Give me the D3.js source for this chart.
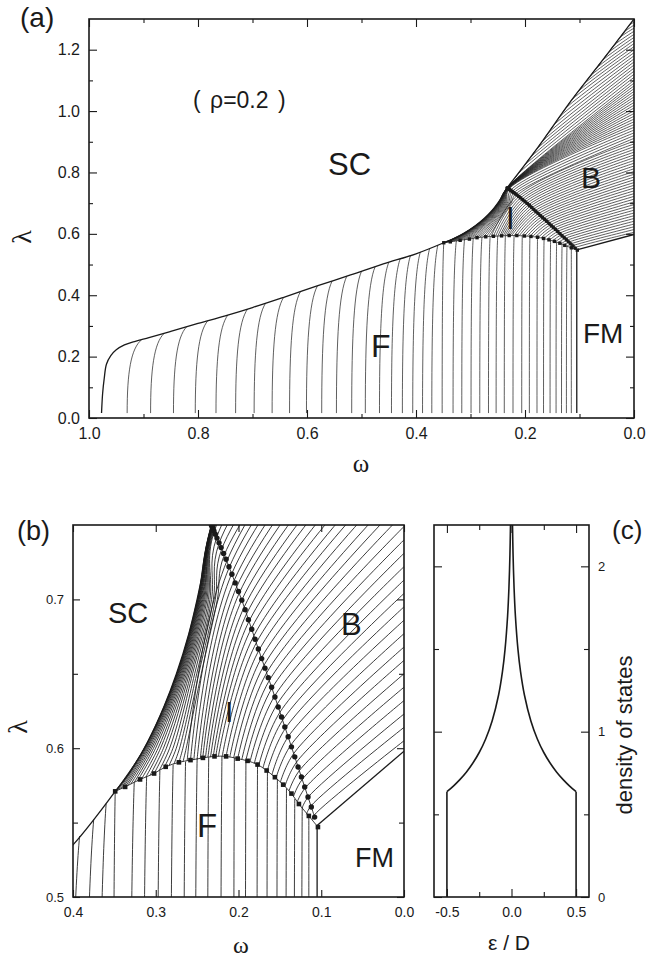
<!DOCTYPE html>
<html>
<head>
<meta charset="utf-8">
<script src="https://cdn.jsdelivr.net/npm/d3@7"></script>
<style>
	body { margin: 0; background: #fff; }
	svg { display: block; font-family: "Liberation Sans", Arial, sans-serif; }
</style>
</head>
<body>
<svg id="fig" width="646" height="961"></svg>
<script>
// ---- phase diagram data (omega, lambda) ----

// bottom end of the F-region lines (lambda where they start)
const fLow = 0.016;
// omega at the bottom of every F line
const fBottom = [0.930, 0.887, 0.845, 0.805, 0.767, 0.731, 0.697, 0.664, 0.632, 0.601, 0.573, 0.546, 0.518,
	0.493, 0.467, 0.445, 0.425, 0.406, 0.388, 0.371, 0.352, 0.332, 0.316, 0.299, 0.283, 0.267, 0.253, 0.238,
	0.222, 0.206, 0.192, 0.178, 0.166, 0.154, 0.143, 0.133, 0.124, 0.115];
// where each F line ends (on the SC boundary or the square line)
const fTop = [[0.903, 0.256], [0.862, 0.276], [0.821, 0.297], [0.782, 0.317], [0.745, 0.336], [0.709, 0.355],
	[0.676, 0.374], [0.643, 0.393], [0.612, 0.412], [0.581, 0.430], [0.554, 0.446], [0.527, 0.462], [0.500, 0.478],
	[0.475, 0.493], [0.450, 0.507], [0.429, 0.519], [0.410, 0.530], [0.392, 0.541], [0.375, 0.552], [0.360, 0.5625],
	[0.349, 0.571], [0.326, 0.577], [0.311, 0.581], [0.295, 0.585], [0.279, 0.589], [0.264, 0.591], [0.250, 0.593],
	[0.236, 0.594], [0.220, 0.5945], [0.205, 0.5935], [0.191, 0.592], [0.177, 0.589], [0.165, 0.5845], [0.153, 0.579],
	[0.142, 0.573], [0.132, 0.566], [0.123, 0.5605], [0.115, 0.5545]];

// superconducting phase boundary
const scLower = [[0.977, 0.016], [0.975, 0.08], [0.972, 0.13], [0.968, 0.175], [0.960, 0.203], [0.950, 0.222],
	[0.935, 0.238], [0.915, 0.250], [0.89, 0.262], [0.85, 0.282], [0.80, 0.308], [0.75, 0.333], [0.70, 0.360],
	[0.64, 0.395], [0.58, 0.431], [0.52, 0.466], [0.46, 0.502], [0.40, 0.535], [0.349, 0.571]];
const scMiddle = [[0.349, 0.571], [0.33, 0.585], [0.31, 0.604], [0.29, 0.628], [0.275, 0.65], [0.26, 0.677],
	[0.25, 0.70], [0.24, 0.727], [0.2328, 0.75]];
const scUpper = [[0.2328, 0.75], [0.175, 0.885], [0.117, 1.03], [0.058, 1.165], [0, 1.3]];

// FM region edges
const fmVert = [[0.105, 0.016], [0.105, 0.548]];
const fmSlant = [[0.105, 0.548], [0, 0.598]];

// F / I boundary (squares) and I / B boundary (circles)
const squarePts = [[0.349, 0.571], [0.337, 0.574], [0.319, 0.579], [0.302, 0.583], [0.288, 0.5875], [0.272, 0.5905],
	[0.258, 0.592], [0.243, 0.5935], [0.229, 0.5945], [0.215, 0.5945], [0.201, 0.593], [0.189, 0.5915], [0.177, 0.589],
	[0.166, 0.585], [0.156, 0.5805], [0.146, 0.5755], [0.136, 0.5695], [0.127, 0.5625], [0.115, 0.5545], [0.104, 0.547]];
const circlePts = [[0.108, 0.5537], [0.112, 0.5605], [0.116, 0.5672], [0.120, 0.5740], [0.124, 0.5807], [0.128, 0.5874],
	[0.132, 0.5942], [0.136, 0.6009], [0.140, 0.6077], [0.144, 0.6143], [0.148, 0.6210], [0.152, 0.6277], [0.156, 0.6344],
	[0.160, 0.6410], [0.164, 0.6474], [0.168, 0.6538], [0.172, 0.6602], [0.176, 0.6667], [0.180, 0.6732], [0.184, 0.6799],
	[0.188, 0.6864], [0.192, 0.6931], [0.196, 0.6995], [0.200, 0.7053], [0.204, 0.7111], [0.208, 0.7169], [0.2115, 0.7219],
	[0.215, 0.7270], [0.218, 0.7309], [0.221, 0.7348], [0.2235, 0.7380], [0.226, 0.7412], [0.228, 0.7438], [0.2297, 0.7460],
	[0.231, 0.7476], [0.232, 0.7489], [0.2328, 0.7500]];

// lines through the I and B regions, ending on the right edge (omega = 0)
const ibLines = [
	[[0.111, 0.552], [0.1087, 0.5549], [0, 0.605]],
	[[0.118, 0.5555], [0.1124, 0.5612], [0, 0.614]],
	[[0.123, 0.560], [0.1159, 0.5671], [0, 0.623]],
	[[0.129, 0.564], [0.1195, 0.5732], [0, 0.632]],
	[[0.1335, 0.5676], [0.1230, 0.5790], [0, 0.641]],
	[[0.139, 0.5713], [0.1265, 0.5849], [0, 0.650]],
	[[0.144, 0.5743], [0.1299, 0.5906], [0, 0.659]],
	[[0.1494, 0.5772], [0.1333, 0.5964], [0, 0.668]],
	[[0.1547, 0.5799], [0.1367, 0.6021], [0, 0.677]],
	[[0.1596, 0.5821], [0.1400, 0.6077], [0, 0.686]],
	[[0.1653, 0.5847], [0.1434, 0.6133], [0, 0.695]],
	[[0.1705, 0.5866], [0.1467, 0.6188], [0, 0.704]],
	[[0.1755, 0.5885], [0.1499, 0.6242], [0, 0.713]],
	[[0.1809, 0.5898], [0.1532, 0.6297], [0, 0.722]],
	[[0.1861, 0.5909], [0.1564, 0.6350], [0, 0.731]],
	[[0.1911, 0.5918], [0.1596, 0.6403], [0, 0.740]],
	[[0.196, 0.5923], [0.1628, 0.6455], [0, 0.749]],
	[[0.201, 0.593], [0.1660, 0.6506], [0, 0.758]],
	[[0.2058, 0.5935], [0.1692, 0.6557], [0, 0.767]],
	[[0.2105, 0.594], [0.1723, 0.6607], [0, 0.776]],
	[[0.215, 0.5945], [0.1754, 0.6657], [0, 0.785]],
	[[0.2197, 0.5945], [0.1785, 0.6708], [0, 0.794]],
	[[0.2243, 0.5945], [0.1814, 0.6756], [0, 0.803]],
	[[0.2275, 0.5945], [0.1844, 0.6806], [0, 0.812]],
	[[0.2305, 0.5945], [0.1873, 0.6853], [0, 0.821]],
	[[0.2338, 0.594], [0.1903, 0.6902], [0, 0.830]],
	[[0.2369, 0.594], [0.1931, 0.6949], [0, 0.839]],
	[[0.2399, 0.5938], [0.1960, 0.6996], [0, 0.848]],
	[[0.2432, 0.5935], [0.1992, 0.7041], [0, 0.857]],
	[[0.2461, 0.5932], [0.2022, 0.7084], [0, 0.866]],
	[[0.250, 0.5925], [0.2052, 0.7128], [0, 0.875]],
	[[0.254, 0.592], [0.2082, 0.7172], [0, 0.884]],
	[[0.258, 0.592], [0.2112, 0.7215], [0, 0.893]],
	[[0.262, 0.5917], [0.2141, 0.7257], [0, 0.902]],
	// the dense bundle hugging the SC boundary
	[[0.267, 0.591], [0.2632, 0.60], [0.245, 0.65], [0.2255, 0.70], [0.2172, 0.7298], [0, 0.911]],
	[[0.272, 0.5905], [0.2672, 0.60], [0.248, 0.65], [0.228, 0.70], [0.2203, 0.7338], [0, 0.920]],
	[[0.278, 0.5894], [0.2712, 0.60], [0.2505, 0.65], [0.2303, 0.70], [0.2234, 0.7378], [0, 0.929]],
	[[0.284, 0.5884], [0.2752, 0.60], [0.253, 0.65], [0.2325, 0.70], [0.2264, 0.7417], [0, 0.938]],
	[[0.290, 0.5869], [0.2792, 0.60], [0.2555, 0.65], [0.2345, 0.70], [0.2294, 0.7456], [0, 0.947]],
	[[0.296, 0.5848], [0.2832, 0.60], [0.2575, 0.65], [0.2363, 0.70], [0.2300, 0.7464], [0, 0.956]],
	[[0.302, 0.583], [0.2872, 0.60], [0.2595, 0.65], [0.238, 0.70], [0.2305, 0.7470], [0, 0.965]],
	[[0.307, 0.5818], [0.2907, 0.60], [0.2613, 0.65], [0.2395, 0.70], [0.2309, 0.7475], [0, 0.974]],
	[[0.312, 0.5806], [0.2942, 0.60], [0.263, 0.65], [0.2409, 0.70], [0.2312, 0.7479], [0, 0.983]],
	[[0.317, 0.5795], [0.2972, 0.60], [0.2646, 0.65], [0.2421, 0.70], [0.2315, 0.7483], [0, 0.992]],
	[[0.322, 0.5782], [0.3002, 0.60], [0.266, 0.65], [0.2432, 0.70], [0.2317, 0.7485], [0, 1.001]],
	[[0.326, 0.5771], [0.3027, 0.60], [0.2673, 0.65], [0.2442, 0.70], [0.2319, 0.7488], [0, 1.010]],
	[[0.330, 0.576], [0.3049, 0.60], [0.2685, 0.65], [0.2451, 0.70], [0.2320, 0.7489], [0, 1.019]],
	[[0.334, 0.5748], [0.3068, 0.60], [0.2696, 0.65], [0.2459, 0.70], [0.2321, 0.7491], [0, 1.028]],
	[[0.337, 0.574], [0.3085, 0.60], [0.2706, 0.65], [0.2466, 0.70], [0.2322, 0.7492], [0, 1.037]],
	[[0.340, 0.5732], [0.3099, 0.60], [0.2715, 0.65], [0.2472, 0.70], [0.2323, 0.7493], [0, 1.046]],
	[[0.3425, 0.5726], [0.3111, 0.60], [0.2723, 0.65], [0.2478, 0.70], [0.2324, 0.7494], [0, 1.055]],
	[[0.345, 0.572], [0.3121, 0.60], [0.273, 0.65], [0.2483, 0.70], [0.2325, 0.7496], [0, 1.064]],
	[[0.347, 0.5715], [0.3129, 0.60], [0.2736, 0.65], [0.2488, 0.70], [0.2326, 0.7497], [0, 1.073]],
	[[0.348, 0.5712], [0.3135, 0.60], [0.2741, 0.65], [0.2492, 0.70], [0.2327, 0.7498], [0, 1.082]],
	[[0.349, 0.571], [0.3139, 0.60], [0.2745, 0.65], [0.2496, 0.70], [0.2328, 0.7500], [0, 1.091]]
];

// B lines leaving the upper SC boundary
const upperLines = [
	[[0.2174, 0.7838], [0.2094, 0.8013], [0, 1.10]],
	[[0.2065, 0.8098], [0.1985, 0.8273], [0, 1.11]],
	[[0.1957, 0.8356], [0.1877, 0.8531], [0, 1.12]],
	[[0.1848, 0.8616], [0.1768, 0.8791], [0, 1.13]],
	[[0.1739, 0.8878], [0.1659, 0.9053], [0, 1.14]],
	[[0.1630, 0.9150], [0.1550, 0.9325], [0, 1.15]],
	[[0.1522, 0.9420], [0.1442, 0.9595], [0, 1.16]],
	[[0.1413, 0.9693], [0.1333, 0.9868], [0, 1.17]],
	[[0.1304, 0.9965], [0.1224, 1.0140], [0, 1.18]],
	[[0.1196, 1.0235], [0.1116, 1.0410], [0, 1.19]],
	[[0.1087, 1.0490], [0.1007, 1.0665], [0, 1.20]],
	[[0.0978, 1.0740], [0.0898, 1.0915], [0, 1.21]],
	[[0.0870, 1.0987], [0.0790, 1.1162], [0, 1.22]],
	[[0.0761, 1.1237], [0.0681, 1.1412], [0, 1.23]],
	[[0.0652, 1.1487], [0.0572, 1.1662], [0, 1.24]],
	[[0.0543, 1.1736], [0.0463, 1.1911], [0, 1.25]],
	[[0.0435, 1.1988], [0.0355, 1.2163], [0, 1.26]],
	[[0.0326, 1.2240], [0.0246, 1.2415], [0, 1.27]],
	[[0.0217, 1.2494], [0.0160, 1.2605], [0, 1.28]],
	[[0.0109, 1.2746], [0.0075, 1.2812], [0, 1.29]]
];

// ---- density of states, panel (c) (positive half, mirrored in the drawing) ----
const dosEps = [0.5, 0.45, 0.4, 0.35, 0.3, 0.25, 0.2, 0.15, 0.1, 0.07, 0.05, 0.03, 0.02, 0.012, 0.0078];
const dosVal = [0.637, 0.671, 0.710, 0.755, 0.809, 0.874, 0.956, 1.065, 1.222, 1.363, 1.498, 1.703, 1.867, 2.074, 2.25];

// ---- ticks ----
const aXMajor = [1.0, 0.8, 0.6, 0.4, 0.2, 0.0], aXMinor = [0.9, 0.7, 0.5, 0.3, 0.1];
const aYMajor = [0.0, 0.2, 0.4, 0.6, 0.8, 1.0, 1.2], aYMinor = [0.1, 0.3, 0.5, 0.7, 0.9, 1.1];
const bXMajor = [0.4, 0.3, 0.2, 0.1, 0.0];
const bYMajor = [0.5, 0.6, 0.7], bYMinor = [0.55, 0.65];
const cXMajor = [-0.5, 0.0, 0.5], cXMinor = [-0.25, 0.25];
const cYMajor = [0, 1, 2], cYMinor = [0.5, 1.5];

const ink = "#1a1a1a";
const svg = d3.select("#fig");

// scales for the three panels
const ax = d3.scaleLinear().domain([1, 0]).range([89, 634]);
const ay = d3.scaleLinear().domain([0, 1.3]).range([418, 19]);
const bx = d3.scaleLinear().domain([0.4, 0]).range([73, 404]);
const by = d3.scaleLinear().domain([0.5, 0.75]).range([897, 525]);
const cx = d3.scaleLinear().domain([-0.6, 0.6]).range([434, 589]);
const cy = d3.scaleLinear().domain([0, 2.25]).range([897, 525]);

function clipFor(id, x, y) {
	svg.append("clipPath").attr("id", id)
		.append("rect")
		.attr("x", x.range()[0]).attr("y", y.range()[1])
		.attr("width", x.range()[1] - x.range()[0])
		.attr("height", y.range()[0] - y.range()[1]);
	return svg.append("g").attr("clip-path", `url(#${id})`);
}

//draw all the curves of the phase diagram into g with the given scales
function drawPhase(g, xs, ys, o) {
	const smooth = d3.line().x((d) => xs(d[0])).y((d) => ys(d[1])).curve(d3.curveCatmullRom.alpha(0.5));
	const straight = d3.line().x((d) => xs(d[0])).y((d) => ys(d[1]));

	// F lines: vertical at the bottom, bending towards the top end
	fBottom.forEach((w0, i) => {
		const t = fTop[i];
		const x0 = xs(w0), y0 = ys(fLow), x1 = xs(t[0]), y1 = ys(t[1]);
		const p = d3.path();
		p.moveTo(x0, y0);
		p.bezierCurveTo(x0, y0 + 0.55 * (y1 - y0), x0 + 0.25 * (x1 - x0), y1 + 0.12 * (y0 - y1), x1, y1);
		g.append("path").attr("d", p.toString())
			.attr("fill", "none").attr("stroke", ink).attr("stroke-width", o.thin);
	});

	// I and B lines
	g.selectAll(".ib").data(ibLines.concat(upperLines)).enter()
		.append("path")
		.attr("d", smooth)
		.attr("fill", "none").attr("stroke", ink).attr("stroke-width", o.thin);

	// boundaries
	[scLower, scMiddle, scUpper].forEach((b) => {
		g.append("path").attr("d", smooth(b))
			.attr("fill", "none").attr("stroke", ink).attr("stroke-width", o.bold);
	});
	[fmVert, fmSlant].forEach((b) => {
		g.append("path").attr("d", straight(b))
			.attr("fill", "none").attr("stroke", ink).attr("stroke-width", o.bold);
	});
	g.append("path").attr("d", smooth(squarePts))
		.attr("fill", "none").attr("stroke", ink).attr("stroke-width", o.thin);
	g.append("path").attr("d", smooth(circlePts))
		.attr("fill", "none").attr("stroke", ink).attr("stroke-width", o.thin);

	// markers
	g.selectAll(".sq").data(squarePts).enter()
		.append("rect")
		.attr("x", (d) => xs(d[0]) - o.sq / 2).attr("y", (d) => ys(d[1]) - o.sq / 2)
		.attr("width", o.sq).attr("height", o.sq).attr("fill", ink);
	g.selectAll(".ci").data(circlePts).enter()
		.append("circle")
		.attr("cx", (d) => xs(d[0])).attr("cy", (d) => ys(d[1]))
		.attr("r", o.r).attr("fill", ink);
}

//frame with inward ticks on all four sides
function frame(x, y, o) {
	const g = svg.append("g");
	const [x0, x1] = x.range(), [y0, y1] = y.range();
	const put = (axis, tr, vals, size, fmt, fs, pad) => {
		const a = g.append("g").attr("transform", tr)
			.call(axis.tickValues(vals).tickSizeInner(-size).tickSizeOuter(0).tickPadding(pad).tickFormat(fmt));
		a.select(".domain").remove();
		a.attr("font-family", null).attr("font-size", fs).attr("color", ink);
		a.selectAll("line").attr("stroke-width", 1.1);
	};
	const none = () => "";
	put(d3.axisBottom(x), `translate(0,${y0})`, o.xMajor, o.tMaj, o.xFmt, o.xFs, 10);
	put(d3.axisTop(x), `translate(0,${y1})`, o.xMajor, o.tMaj, none, 10, 3);
	if (o.xMinor) {
		put(d3.axisBottom(x), `translate(0,${y0})`, o.xMinor, o.tMin, none, 10, 3);
		put(d3.axisTop(x), `translate(0,${y1})`, o.xMinor, o.tMin, none, 10, 3);
	}
	put(d3.axisLeft(y), `translate(${x0},0)`, o.yMajor, o.tMaj, o.yLeft ? o.yFmt : none, o.yFs, 9);
	put(d3.axisRight(y), `translate(${x1},0)`, o.yMajor, o.tMaj, o.yLeft ? none : o.yFmt, o.yFs, 9);
	if (o.yMinor) {
		put(d3.axisLeft(y), `translate(${x0},0)`, o.yMinor, o.tMin, none, 10, 3);
		put(d3.axisRight(y), `translate(${x1},0)`, o.yMinor, o.tMin, none, 10, 3);
	}
	g.append("rect").attr("x", x0).attr("y", y1).attr("width", x1 - x0).attr("height", y0 - y1)
		.attr("fill", "none").attr("stroke", ink).attr("stroke-width", 1.6);
}

function label(x, y, txt, fs, opts) {
	const t = svg.append("text").attr("x", x).attr("y", y).attr("font-size", fs).attr("fill", ink).text(txt);
	if (opts && opts.serif) t.attr("font-family", "'Liberation Serif', 'DejaVu Serif', serif");
	if (opts && opts.anchor) t.attr("text-anchor", opts.anchor);
	if (opts && opts.rot) t.attr("transform", `rotate(-90 ${x} ${y})`);
	if (opts && opts.ws) t.attr("word-spacing", opts.ws);
	return t;
}

// ---- panel (a) ----
drawPhase(clipFor("clipA", ax, ay), ax, ay, { thin: 0.7, bold: 1.3, sq: 3.4, r: 1.9 });
frame(ax, ay, {
	xMajor: aXMajor, xMinor: aXMinor, yMajor: aYMajor, yMinor: aYMinor,
	xFmt: d3.format(".1f"), yFmt: d3.format(".1f"), xFs: 16, yFs: 16, yLeft: true, tMaj: 8, tMin: 4
});
label(20, 27, "(a)", 28);
label(193, 108, "( ρ=0.2 )", 23, { ws: 3 });
label(328, 175, "SC", 31);
label(581, 188, "B", 30);
label(506, 229, "I", 31);
label(371, 357, "F", 32);
label(583, 343, "FM", 28);
label(31, 237, "λ", 28, { serif: true, anchor: "middle", rot: true });
label(361, 472, "ω", 25, { serif: true, anchor: "middle" });

// ---- panel (b) ----
drawPhase(clipFor("clipB", bx, by), bx, by, { thin: 0.85, bold: 1.3, sq: 4.6, r: 2.7 });
frame(bx, by, {
	xMajor: bXMajor, yMajor: bYMajor, yMinor: bYMinor,
	xFmt: d3.format(".1f"), yFmt: d3.format(".1f"), xFs: 14, yFs: 13, yLeft: true, tMaj: 7, tMin: 5
});
label(17, 540, "(b)", 27);
label(108, 623, "SC", 29);
label(341, 635, "B", 31);
label(225, 722, "I", 30);
label(197, 837, "F", 33);
label(355, 867, "FM", 27);
label(27, 727, "λ", 28, { serif: true, anchor: "middle", rot: true });
label(241, 953, "ω", 24, { serif: true, anchor: "middle" });

// ---- panel (c) ----
const gc = clipFor("clipC", cx, cy);
const dosPts = dosEps.map((e, i) => [e, dosVal[i]]);
const dosCurve = d3.line().curve(d3.curveCatmullRom.alpha(0.5));
[1, -1].forEach((s) => {
	gc.append("path")
		.attr("d", d3.line()([[cx(s * dosEps[0]), cy(0)], [cx(s * dosEps[0]), cy(dosVal[0])]]))
		.attr("fill", "none").attr("stroke", ink).attr("stroke-width", 1.6);
	gc.append("path")
		.attr("d", dosCurve(dosPts.map((d) => [cx(s * d[0]), cy(d[1])])))
		.attr("fill", "none").attr("stroke", ink).attr("stroke-width", 1.6);
});
frame(cx, cy, {
	xMajor: cXMajor, xMinor: cXMinor, yMajor: cYMajor, yMinor: cYMinor,
	xFmt: (d) => d.toFixed(1), yFmt: d3.format("d"), xFs: 14, yFs: 13, yLeft: false, tMaj: 8, tMin: 5
});
label(612, 539, "(c)", 26);
label(632, 735, "density of states", 22, { anchor: "middle", rot: true });
label(509, 950, "ε / D", 21, { anchor: "middle" });
</script>
</body>
</html>
